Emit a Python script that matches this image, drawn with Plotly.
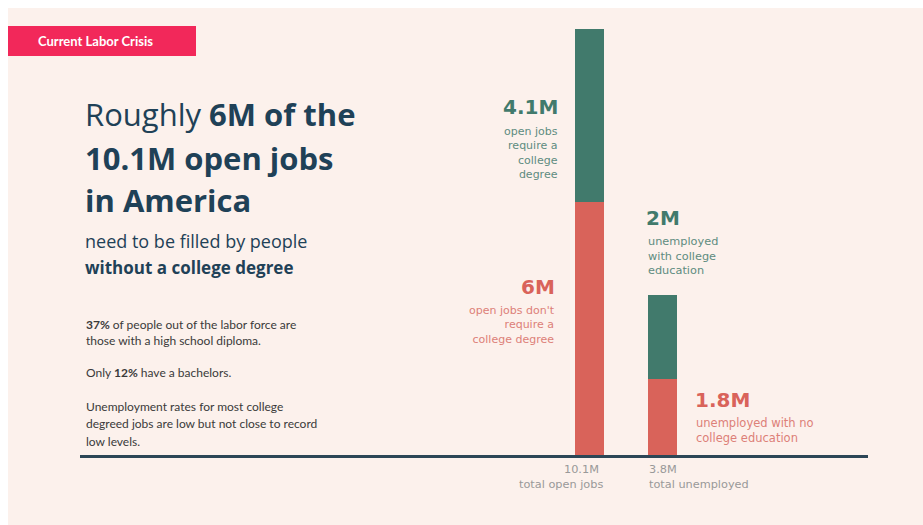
import plotly.graph_objects as go

# ---- data -------------------------------------------------------------
groups = ["total open jobs", "total unemployed"]
no_degree = [6.0, 1.8]          # millions, red segment
with_degree = [4.1, 2.0]        # millions, green segment
no_degree_notes = ["open jobs don't<br>require a<br>college degree",
                   "unemployed with no<br>college education"]
degree_notes = ["open jobs<br>require a<br>college<br>degree",
                "unemployed<br>with college<br>education"]
totals = [a + b for a, b in zip(no_degree, with_degree)]

W, H = 923, 525
GREEN = "#417A6C"
GREEN_SOFT = "#5E8C80"
RED = "#D9635A"
RED_SOFT = "#DD8078"
INK = "#1F4157"
BODY = "#3A3A3A"
GREY = "#999999"
CARD = "#FCF1EC"
NUM_FONT = "DejaVu Sans"
LBL_FONT = "DejaVu Sans"


def px(x):
    return x / W


def py(y):
    return 1 - y / H


fig = go.Figure()
fig.add_bar(x=groups, y=no_degree, marker=dict(color=RED, line=dict(width=0)),
            width=0.397, hoverinfo="skip")
fig.add_bar(x=groups, y=with_degree, marker=dict(color=GREEN, line=dict(width=0)),
            width=0.397, hoverinfo="skip")

# category 0 centre sits at 589.5px, categories 73px apart
unit = 73.0
c0 = 589.5
x_lo = (80 - c0) / unit
x_hi = (868 - c0) / unit

fig.update_layout(
    width=W, height=H,
    margin=dict(l=0, r=0, t=0, b=0),
    paper_bgcolor="white",
    plot_bgcolor="rgba(0,0,0,0)",
    barmode="stack",
    showlegend=False,
    xaxis=dict(domain=[px(80), px(868)], range=[x_lo, x_hi], showticklabels=False,
               showgrid=False, zeroline=False, ticks="",
               showline=True, linecolor="#2C4656", linewidth=3),
    yaxis=dict(domain=[py(455), py(29)], range=[0, max(totals)], visible=False,
               showgrid=False, zeroline=False),
)

# card background and header tag
fig.add_shape(type="rect", xref="paper", yref="paper", layer="below",
              x0=px(8), x1=1, y0=0, y1=py(8), fillcolor=CARD, line=dict(width=0))
fig.add_shape(type="rect", xref="paper", yref="paper",
              x0=px(8), x1=px(196), y0=py(56), y1=py(26),
              fillcolor="#F2285A", line=dict(width=0))


def note(text, x, y, size, color, family, xanchor="left", yanchor="middle", align=None):
    fig.add_annotation(text=text, x=px(x), y=py(y), xref="paper", yref="paper",
                       xanchor=xanchor, yanchor=yanchor, showarrow=False,
                       align=align or xanchor,
                       font=dict(size=size, color=color, family=family))


note("<b>Current Labor Crisis</b>", 36, 41, 13, "white", "Lato")

# headline
note("Roughly <b>6M of the</b>", 83, 114, 31, INK, "Open Sans")
note("<b>10.1M open jobs</b>", 83, 158, 31, INK, "Open Sans")
note("<b>in America</b>", 83, 200, 31, INK, "Open Sans")
note("need to be filled by people", 83, 241, 18, INK, "Open Sans")
note("<b>without a college degree</b>", 83, 267, 17, INK, "Open Sans")

# supporting facts
body_lines = [
    ("<b>37%</b> of people out of the labor force are", 324),
    ("those with a high school diploma.", 340),
    ("Only <b>12%</b> have a bachelors.", 372),
    ("Unemployment rates for most college", 406),
    ("degreed jobs are low but not close to record", 423),
    ("low levels.", 441),
]
for txt, yy in body_lines:
    note(txt, 84, yy, 12, BODY, "Lato")

# segment labels
note(f"<b>{with_degree[0]:g}M</b>", 560, 107, 20, GREEN, NUM_FONT, xanchor="right")
note(degree_notes[0], 560, 153, 11, GREEN_SOFT, LBL_FONT, xanchor="right")
note(f"<b>{no_degree[0]:g}M</b>", 557, 287, 20, RED, NUM_FONT, xanchor="right")
note(no_degree_notes[0], 557, 325, 11, RED_SOFT, LBL_FONT, xanchor="right")

note(f"<b>{with_degree[1]:g}M</b>", 644, 218, 20, GREEN, NUM_FONT)
note(degree_notes[1], 646, 256, 11.3, GREEN_SOFT, LBL_FONT)
note(f"<b>{no_degree[1]:g}M</b>", 693, 400, 20, RED, NUM_FONT)
note(no_degree_notes[1], 694, 430, 11.5, RED_SOFT, LBL_FONT)

# totals under the axis
note(f"{totals[0]:.1f}M", 601, 469, 11.3, GREY, LBL_FONT, xanchor="right")
note(groups[0], 605, 484, 11.3, GREY, LBL_FONT, xanchor="right")
note(f"{totals[1]:.1f}M", 647, 469, 11.3, GREY, LBL_FONT)
note(groups[1], 647, 484, 11.3, GREY, LBL_FONT)

fig.write_html("out.html")
